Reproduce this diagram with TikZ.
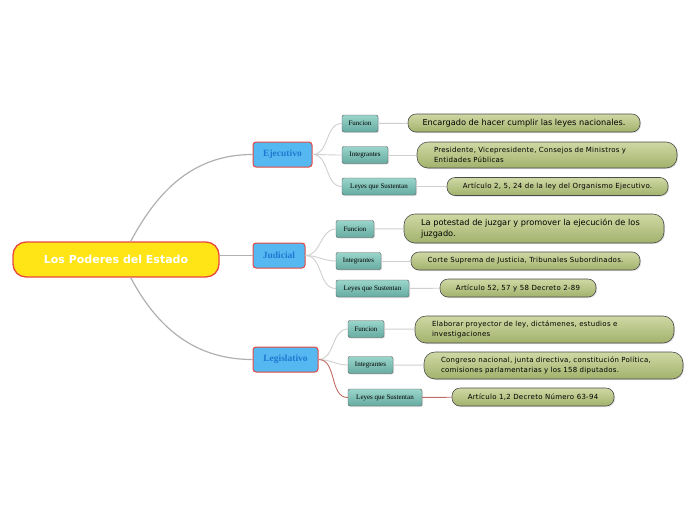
\documentclass[tikz,border=0pt]{standalone}
\usepackage{fontspec}
\setmainfont{Liberation Serif}
\newfontfamily\leaffont[LetterSpace=4]{DejaVu Sans}
\newfontfamily\bigleaffont{DejaVu Sans}
\usetikzlibrary{shadows}

\definecolor{rootfill}{HTML}{FFE516}
\definecolor{rootline}{HTML}{E8473F}
\definecolor{branchfill}{HTML}{55B8F0}
\definecolor{branchtext}{HTML}{1E78D2}
\definecolor{childtop}{HTML}{9AD5CB}
\definecolor{childbot}{HTML}{66ABA1}
\definecolor{leaftop}{HTML}{CFD8A4}
\definecolor{leafbot}{HTML}{A2B26C}
\definecolor{linkgray}{HTML}{B0B0B0}
\definecolor{linklight}{HTML}{CFCFCF}
\definecolor{linkred}{HTML}{C46A64}

\begin{document}
\begin{tikzpicture}[x=1pt,y=-1pt,
	root/.style={draw=rootline,line width=1.3pt,fill=rootfill,rounded corners=13pt,
		minimum width=206pt,minimum height=35pt,text=white,
		font=\bigleaffont\bfseries\fontsize{11}{13}\selectfont},
	branch/.style={draw=rootline,line width=1pt,fill=branchfill,rounded corners=3pt,
		minimum height=25pt,inner xsep=2pt,text=branchtext,
		font=\bfseries\fontsize{9.5}{11}\selectfont},
	child/.style={draw=black!65,top color=childtop,bottom color=childbot,rounded corners=2pt,
		minimum height=17pt,inner xsep=2pt,drop shadow={opacity=0.25,shadow xshift=1pt,shadow yshift=-1pt},
		font=\fontsize{7}{8}\selectfont},
	leaf/.style={draw=black!70,line width=0.6pt,top color=leaftop,bottom color=leafbot,rounded corners=8pt,
		minimum height=18pt,inner xsep=2pt,drop shadow={opacity=0.25,shadow xshift=1pt,shadow yshift=-1pt},
		font=\leaffont\fontsize{7}{10.5}\selectfont},
	twoline/.style={leaf,rounded corners=11pt,align=left,inner xsep=17pt,inner ysep=3pt},
	mainlink/.style={draw=linkgray,line width=1.2pt},
	sublink/.style={draw=linklight,line width=0.9pt},
	redlink/.style={draw=linkred,line width=0.9pt}
	]
	\useasboundingbox (0,0) rectangle (696,520);

	% centro
	\node[root] (estado) at (116,259.5) {Los Poderes del Estado};

	% poderes
	\node[branch,minimum width=59pt] (ejec) at (282.5,154.5) {Ejecutivo};
	\node[branch,minimum width=52pt] (judi) at (279,255.5) {Judicial};
	\node[branch,minimum width=65pt] (legi) at (285.5,359.5) {Legislativo};

	% ejecutivo
	\node[child,minimum width=36pt] (ejecfun) at (360,123.5) {Funcion};
	\node[child,minimum width=46pt] (ejecint) at (365,155) {Integrantes};
	\node[child,minimum width=74pt] (ejecley) at (379,186.5) {Leyes que Sustentan};
	\node[leaf,minimum width=232pt,font=\bigleaffont\fontsize{8.2}{9}\selectfont] (ejecfuntxt) at (524,123) {Encargado de hacer cumplir las leyes nacionales.};
	\node[twoline,minimum height=26pt,text width=226pt] (ejecinttxt) at (547,155) {Presidente, Vicepresidente, Consejos de Ministros y\\Entidades Públicas};
	\node[leaf,minimum width=221pt] (ejecleytxt) at (557.5,186.5) {Artículo 2, 5, 24 de la ley del Organismo Ejecutivo.};

	% judicial
	\node[child,minimum width=38pt] (judifun) at (355,229) {Funcion};
	\node[child,minimum width=45pt] (judiint) at (358.5,261) {Integrantes};
	\node[child,minimum width=73pt] (judiley) at (372.5,288.5) {Leyes que Sustentan};
	\node[twoline,minimum height=29pt,text width=226pt,font=\bigleaffont\fontsize{8.2}{11}\selectfont] (judifuntxt) at (534,228.5) {La potestad de juzgar y promover la ejecución de los\\juzgado.};
	\node[leaf,minimum width=229pt] (judiinttxt) at (525.5,261) {Corte Suprema de Justicia, Tribunales Subordinados.};
	\node[leaf,minimum width=156pt] (judileytxt) at (518,288) {Artículo 52, 57 y 58 Decreto 2-89};

	% legislativo
	\node[child,minimum width=36pt] (legifun) at (366,329) {Funcion};
	\node[child,minimum width=45pt] (legiint) at (370.5,365) {Integrantes};
	\node[child,minimum width=74pt] (legiley) at (385,397.5) {Leyes que Sustentan};
	\node[twoline,minimum height=27pt,text width=225pt] (legifuntxt) at (544.5,329.5) {Elaborar proyector de ley, dictámenes, estudios e\\investigaciones};
	\node[twoline,minimum height=27pt,text width=225pt] (legiinttxt) at (553.5,365.5) {Congreso nacional, junta directiva, constitución Política,\\comisiones parlamentarias y los 158 diputados.};
	\node[leaf,minimum width=162pt] (legileytxt) at (533,397) {Artículo 1,2 Decreto Número 63-94};

	% ramas principales
	\draw[mainlink] (estado.51) to [out=62,in=180] (ejec.west);
	\draw[mainlink] (estado.east |- judi.west) to (judi.west);
	\draw[mainlink] (estado.-51) to [out=-62,in=180] (legi.west);

	% ramas ejecutivo
	\draw[sublink] (ejec.east) to [out=0,in=180] (ejecfun.west);
	\draw[sublink] (ejec.east) to [out=0,in=180] (ejecint.west);
	\draw[sublink] (ejec.east) to [out=0,in=180] (ejecley.west);
	\draw[sublink] (ejecfun) -- (ejecfuntxt);
	\draw[sublink] (ejecint) -- (ejecinttxt);
	\draw[sublink] (ejecley) -- (ejecleytxt);

	% ramas judicial
	\draw[sublink] (judi.east) to [out=0,in=180] (judifun.west);
	\draw[sublink] (judi.east) to [out=0,in=180] (judiint.west);
	\draw[sublink] (judi.east) to [out=0,in=180] (judiley.west);
	\draw[sublink] (judifun) -- (judifuntxt);
	\draw[sublink] (judiint) -- (judiinttxt);
	\draw[sublink] (judiley) -- (judileytxt);

	% ramas legislativo
	\draw[sublink] (legi.east) to [out=0,in=180] (legifun.west);
	\draw[sublink] (legi.east) to [out=0,in=180] (legiint.west);
	\draw[redlink] (legi.east) to [out=0,in=180] (legiley.west);
	\draw[sublink] (legifun) -- (legifuntxt);
	\draw[sublink] (legiint) -- (legiinttxt);
	\draw[redlink] (legiley) -- (legileytxt);
\end{tikzpicture}
\end{document}
